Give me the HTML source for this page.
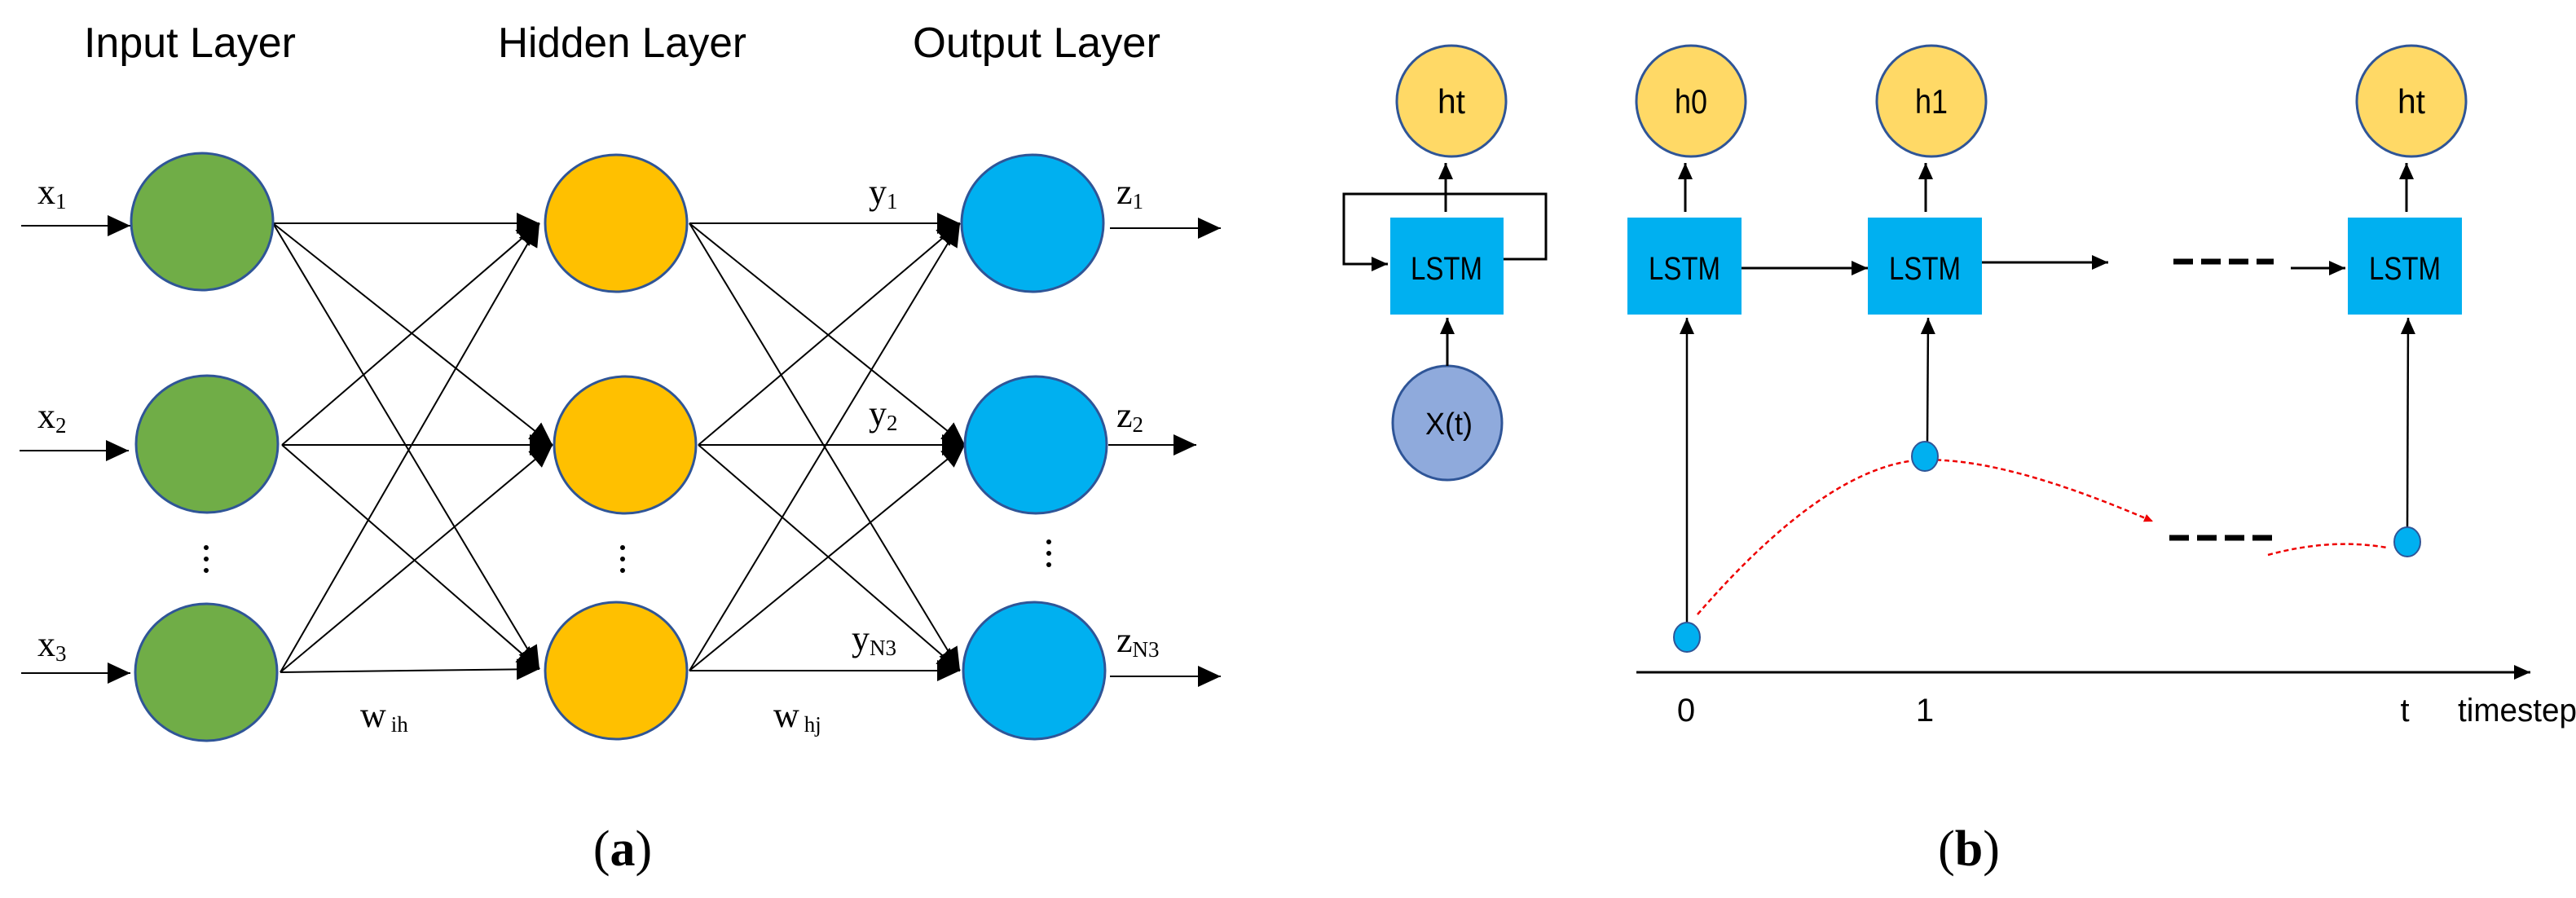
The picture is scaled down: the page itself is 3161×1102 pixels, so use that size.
<!DOCTYPE html>
<html><head><meta charset="utf-8"><style>
html,body{margin:0;padding:0;background:#fff;}
svg{display:block;}
</style></head><body>
<svg width="3161" height="1102" viewBox="0 0 3161 1102" xmlns="http://www.w3.org/2000/svg">
<defs>
<marker id="big" markerUnits="userSpaceOnUse" markerWidth="30" markerHeight="26" refX="28" refY="13" orient="auto"><path d="M0,0 L28,13 L0,26 Z" fill="#000"/></marker>
<marker id="sm" markerUnits="userSpaceOnUse" markerWidth="22" markerHeight="18" refX="20" refY="9" orient="auto"><path d="M0,0 L20,9 L0,18 Z" fill="#000"/></marker>
<marker id="red" markerUnits="userSpaceOnUse" markerWidth="12" markerHeight="10" refX="11" refY="5" orient="auto"><path d="M0,0 L11,5 L0,10 Z" fill="#e00"/></marker>
</defs>
<g font-family="'Liberation Sans', sans-serif" font-size="52" fill="#000">
<text x="103" y="70" textLength="260" lengthAdjust="spacingAndGlyphs">Input Layer</text>
<text x="611" y="70" textLength="305" lengthAdjust="spacingAndGlyphs">Hidden Layer</text>
<text x="1120" y="70" textLength="304" lengthAdjust="spacingAndGlyphs">Output Layer</text>
</g>
<g stroke="#000" stroke-width="2" marker-end="url(#big)">
<line x1="335" y1="274" x2="662" y2="274"/><line x1="335" y1="274" x2="678" y2="546"/><line x1="335" y1="274" x2="662" y2="821"/>
<line x1="346" y1="546" x2="662" y2="274"/><line x1="346" y1="546" x2="678" y2="546"/><line x1="346" y1="546" x2="662" y2="821"/>
<line x1="344" y1="825" x2="662" y2="274"/><line x1="344" y1="825" x2="678" y2="546"/><line x1="344" y1="825" x2="662" y2="821"/>
<line x1="846" y1="274" x2="1178" y2="274"/><line x1="846" y1="274" x2="1184" y2="546"/><line x1="846" y1="274" x2="1178" y2="823"/>
<line x1="857" y1="546" x2="1178" y2="274"/><line x1="857" y1="546" x2="1184" y2="546"/><line x1="857" y1="546" x2="1178" y2="823"/>
<line x1="846" y1="823" x2="1178" y2="274"/><line x1="846" y1="823" x2="1184" y2="546"/><line x1="846" y1="823" x2="1178" y2="823"/>
<line x1="26" y1="277" x2="160" y2="277"/><line x1="24" y1="553" x2="158" y2="553"/><line x1="26" y1="826" x2="160" y2="826"/>
<line x1="1362" y1="280" x2="1498" y2="280"/><line x1="1360" y1="546" x2="1468" y2="546"/><line x1="1362" y1="830" x2="1498" y2="830"/>
</g>
<g stroke="#2F5597" stroke-width="3">
<ellipse cx="248" cy="272" rx="87" ry="84" fill="#70AD47"/>
<ellipse cx="254" cy="545" rx="87" ry="84" fill="#70AD47"/>
<ellipse cx="253" cy="825" rx="87" ry="84" fill="#70AD47"/>
<ellipse cx="756" cy="274" rx="87" ry="84" fill="#FFC000"/>
<ellipse cx="767" cy="546" rx="87" ry="84" fill="#FFC000"/>
<ellipse cx="756" cy="823" rx="87" ry="84" fill="#FFC000"/>
<ellipse cx="1267" cy="274" rx="87" ry="84" fill="#00B0F0"/>
<ellipse cx="1271" cy="546" rx="87" ry="84" fill="#00B0F0"/>
<ellipse cx="1269" cy="823" rx="87" ry="84" fill="#00B0F0"/>
</g>
<g fill="#000">
<circle cx="253" cy="672" r="3"/><circle cx="253" cy="686" r="3"/><circle cx="253" cy="700" r="3"/>
<circle cx="764" cy="672" r="3"/><circle cx="764" cy="686" r="3"/><circle cx="764" cy="700" r="3"/>
<circle cx="1287" cy="665" r="3"/><circle cx="1287" cy="679" r="3"/><circle cx="1287" cy="693" r="3"/>
</g>
<g font-family="'Liberation Serif', serif" font-size="44" fill="#000">
<text x="46" y="250">x<tspan font-size="27" dy="6">1</tspan></text>
<text x="46" y="525">x<tspan font-size="27" dy="6">2</tspan></text>
<text x="46" y="805">x<tspan font-size="27" dy="6">3</tspan></text>
<text x="1066" y="250">y<tspan font-size="27" dy="6">1</tspan></text>
<text x="1066" y="522">y<tspan font-size="27" dy="6">2</tspan></text>
<text x="1045" y="798">y<tspan font-size="27" dy="6">N3</tspan></text>
<text x="1370" y="250">z<tspan font-size="27" dy="6">1</tspan></text>
<text x="1370" y="524">z<tspan font-size="27" dy="6">2</tspan></text>
<text x="1370" y="800">z<tspan font-size="27" dy="6">N3</tspan></text>
<text x="442" y="892">w<tspan font-size="27" dx="6" dy="6">ih</tspan></text>
<text x="949" y="892">w<tspan font-size="27" dx="6" dy="6">hj</tspan></text>
</g>
<g font-family="'Liberation Serif', serif" font-size="62" fill="#000" text-anchor="middle">
<text x="764" y="1062">(<tspan font-weight="bold">a</tspan>)</text>
<text x="2416" y="1062">(<tspan font-weight="bold">b</tspan>)</text>
</g>
<g stroke="#2F5597" stroke-width="3" fill="#FFD966">
<ellipse cx="1781" cy="124" rx="67" ry="68"/>
<ellipse cx="2075" cy="124" rx="67" ry="68"/>
<ellipse cx="2370" cy="124" rx="67" ry="68"/>
<ellipse cx="2959" cy="124" rx="67" ry="68"/>
<ellipse cx="1776" cy="519" rx="67" ry="70" fill="#8FAADC"/>
</g>
<g fill="#00B0F0">
<rect x="1706" y="267" width="139" height="119"/>
<rect x="1997" y="267" width="140" height="119"/>
<rect x="2292" y="267" width="140" height="119"/>
<rect x="2881" y="267" width="140" height="119"/>
</g>
<g stroke="#000" stroke-width="3" fill="none" marker-end="url(#sm)">
<line x1="1774" y1="260" x2="1774" y2="200"/>
<line x1="2068" y1="260" x2="2068" y2="200"/>
<line x1="2363" y1="260" x2="2363" y2="200"/>
<line x1="2953" y1="260" x2="2953" y2="200"/>
<polyline points="1845,318 1897,318 1897,238 1649,238 1649,324 1703,324"/>
<line x1="1776" y1="449" x2="1776" y2="390"/>
<line x1="2137" y1="329" x2="2292" y2="329"/>
<line x1="2432" y1="322" x2="2587" y2="322"/>
<line x1="2811" y1="329" x2="2878" y2="329"/>
<line x1="2070" y1="765" x2="2070" y2="390" stroke-width="2.5"/>
<line x1="2365" y1="543" x2="2366" y2="390" stroke-width="2.5"/>
<line x1="2954" y1="648" x2="2955" y2="390" stroke-width="2.5"/>
<line x1="2008" y1="825" x2="3105" y2="825"/>
</g>
<g stroke="#000" stroke-width="7" stroke-dasharray="24,10">
<line x1="2667" y1="321" x2="2790" y2="321"/>
<line x1="2662" y1="660" x2="2788" y2="660"/>
</g>
<g stroke="#e00" stroke-width="2.5" fill="none" stroke-dasharray="6,4">
<path d="M2083,754 Q2260,550 2385,565 Q2480,570 2642,640" marker-end="url(#red)"/>
<path d="M2783,681 Q2860,660 2929,672"/>
</g>
<g fill="#00B0F0" stroke="#2F5597" stroke-width="2">
<ellipse cx="2070" cy="782" rx="16" ry="18"/>
<ellipse cx="2362" cy="560" rx="16" ry="18"/>
<ellipse cx="2954" cy="665" rx="16" ry="18"/>
</g>
<g font-family="'Liberation Sans', sans-serif" fill="#000" text-anchor="middle">
<g font-size="42">
<text x="1781" y="139" textLength="34" lengthAdjust="spacingAndGlyphs">ht</text>
<text x="2075" y="139" textLength="40" lengthAdjust="spacingAndGlyphs">h0</text>
<text x="2370" y="139" textLength="40" lengthAdjust="spacingAndGlyphs">h1</text>
<text x="2959" y="139" textLength="34" lengthAdjust="spacingAndGlyphs">ht</text>
<text x="1778" y="533" font-size="38" textLength="58" lengthAdjust="spacingAndGlyphs">X(t)</text>
</g>
<g font-size="40">
<text x="1775" y="343" textLength="88" lengthAdjust="spacingAndGlyphs">LSTM</text>
<text x="2067" y="343" textLength="88" lengthAdjust="spacingAndGlyphs">LSTM</text>
<text x="2362" y="343" textLength="88" lengthAdjust="spacingAndGlyphs">LSTM</text>
<text x="2951" y="343" textLength="88" lengthAdjust="spacingAndGlyphs">LSTM</text>
</g>
<g font-size="40">
<text x="2069" y="885">0</text>
<text x="2362" y="885">1</text>
<text x="2951" y="885">t</text>
<text x="3089" y="885" textLength="146" lengthAdjust="spacingAndGlyphs">timestep</text>
</g>
</g>
</svg>
</body></html>
